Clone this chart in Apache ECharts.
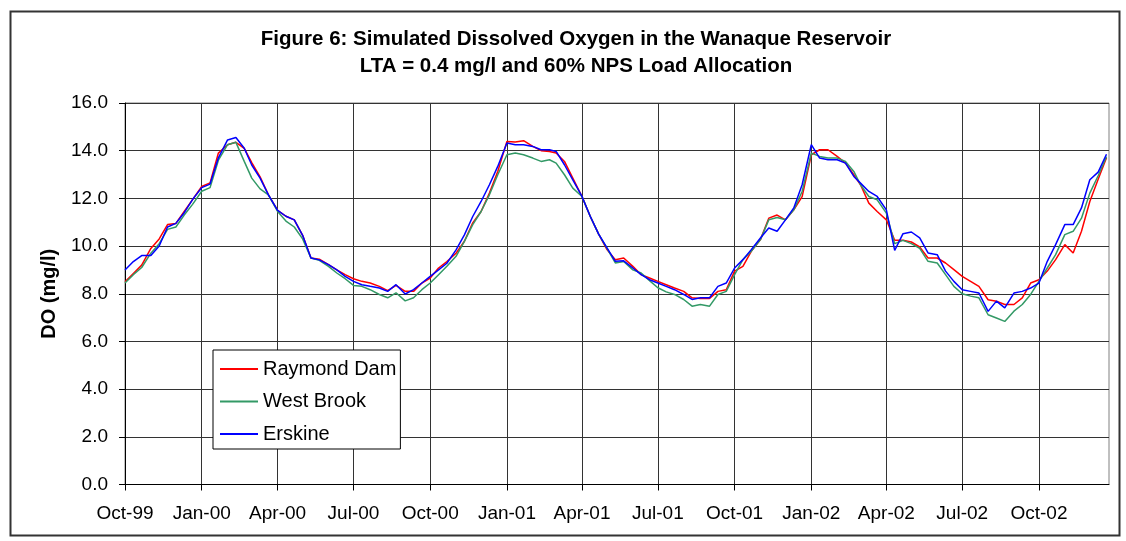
<!DOCTYPE html>
<html>
<head>
<meta charset="utf-8">
<title>Figure 6</title>
<script src="https://cdn.jsdelivr.net/npm/echarts@6/dist/echarts.min.js"></script>
<style>
  html, body { margin: 0; padding: 0; background: #fff; }
  #chart { width: 1126px; height: 541px; }
</style>
</head>
<body>
<div id="chart"></div>
<script>
// sample dates (1st, 11th, 21st of each month)
var dates = [
  '1999-10-01','1999-10-11','1999-10-21','1999-11-01','1999-11-11','1999-11-21','1999-12-01','1999-12-11','1999-12-21',
  '2000-01-01','2000-01-11','2000-01-21','2000-02-01','2000-02-11','2000-02-21','2000-03-01','2000-03-11','2000-03-21',
  '2000-04-01','2000-04-11','2000-04-21','2000-05-01','2000-05-11','2000-05-21','2000-06-01','2000-06-11','2000-06-21',
  '2000-07-01','2000-07-11','2000-07-21','2000-08-01','2000-08-11','2000-08-21','2000-09-01','2000-09-11','2000-09-21',
  '2000-10-01','2000-10-11','2000-10-21','2000-11-01','2000-11-11','2000-11-21','2000-12-01','2000-12-11','2000-12-21',
  '2001-01-01','2001-01-11','2001-01-21','2001-02-01','2001-02-11','2001-02-21','2001-03-01','2001-03-11','2001-03-21',
  '2001-04-01','2001-04-11','2001-04-21','2001-05-01','2001-05-11','2001-05-21','2001-06-01','2001-06-11','2001-06-21',
  '2001-07-01','2001-07-11','2001-07-21','2001-08-01','2001-08-11','2001-08-21','2001-09-01','2001-09-11','2001-09-21',
  '2001-10-01','2001-10-11','2001-10-21','2001-11-01','2001-11-11','2001-11-21','2001-12-01','2001-12-11','2001-12-21',
  '2002-01-01','2002-01-11','2002-01-21','2002-02-01','2002-02-11','2002-02-21','2002-03-01','2002-03-11','2002-03-21',
  '2002-04-01','2002-04-11','2002-04-21','2002-05-01','2002-05-11','2002-05-21','2002-06-01','2002-06-11','2002-06-21',
  '2002-07-01','2002-07-11','2002-07-21','2002-08-01','2002-08-11','2002-08-21','2002-09-01','2002-09-11','2002-09-21',
  '2002-10-01','2002-10-11','2002-10-21','2002-11-01','2002-11-11','2002-11-21','2002-12-01','2002-12-11','2002-12-21'
];

var raymondDam = [
  8.5, 8.85, 9.2, 9.9, 10.3, 10.9, 10.95, 11.45, 11.95,
  12.5, 12.65, 13.9, 14.25, 14.35, 14.1, 13.5, 12.9, 12.15,
  11.5, 11.25, 11.1, 10.45, 9.5, 9.45, 9.22, 9.0, 8.8,
  8.63, 8.52, 8.45, 8.31, 8.13, 8.35, 8.1, 8.1, 8.45,
  8.66, 9.08, 9.35, 9.7, 10.2, 10.97, 11.45, 12.22, 13.13,
  14.39, 14.36, 14.42, 14.18, 14.0, 13.97, 13.9, 13.55, 12.85,
  12.08, 11.24, 10.5, 9.85, 9.43, 9.5, 9.15, 8.8, 8.66,
  8.52, 8.38, 8.24, 8.1, 7.83, 7.8, 7.8, 8.1, 8.17,
  8.95, 9.15, 9.78, 10.27, 11.17, 11.3, 11.1, 11.52, 12.07,
  13.83, 14.04, 14.04, 13.76, 13.48, 12.99, 12.57, 11.8, 11.45,
  11.1, 10.24, 10.24, 10.17, 9.96, 9.5, 9.5, 9.29, 9.01,
  8.73, 8.52, 8.31, 7.75, 7.69, 7.55, 7.55, 7.83, 8.45,
  8.59, 8.95, 9.43, 10.06, 9.71, 10.62, 11.87, 12.8, 13.7
];

var westBrook = [
  8.45, 8.8, 9.1, 9.7, 10.1, 10.7, 10.8, 11.3, 11.75,
  12.3, 12.45, 13.6, 14.25, 14.35, 13.55, 12.85, 12.4, 12.15,
  11.45, 11.05, 10.8, 10.3, 9.5, 9.4, 9.15, 8.87, 8.63,
  8.35, 8.31, 8.17, 7.97, 7.83, 8.04, 7.7, 7.83, 8.17,
  8.45, 8.8, 9.15, 9.57, 10.2, 10.9, 11.45, 12.15, 12.99,
  13.83, 13.9, 13.83, 13.69, 13.55, 13.62, 13.48, 12.99, 12.43,
  12.08, 11.24, 10.5, 9.9, 9.29, 9.35, 9.0, 8.87, 8.55,
  8.25, 8.08, 7.97, 7.76, 7.48, 7.55, 7.48, 7.97, 8.1,
  8.8, 9.43, 9.78, 10.27, 11.1, 11.2, 11.1, 11.52, 12.29,
  13.9, 13.76, 13.69, 13.69, 13.55, 13.13, 12.57, 12.08, 11.94,
  11.38, 10.1, 10.24, 10.1, 9.9, 9.36, 9.29, 8.8, 8.31,
  8.0, 7.9, 7.83, 7.12, 6.98, 6.84, 7.27, 7.55, 7.97,
  8.52, 9.08, 9.64, 10.48, 10.62, 11.17, 12.22, 12.95, 13.75
];

var erskine = [
  9.0, 9.35, 9.6, 9.6, 10.0, 10.8, 10.95, 11.4, 11.95,
  12.45, 12.6, 13.7, 14.45, 14.55, 14.1, 13.4, 12.85, 12.15,
  11.5, 11.25, 11.1, 10.45, 9.5, 9.42, 9.22, 9.0, 8.73,
  8.52, 8.38, 8.31, 8.24, 8.1, 8.38, 7.99, 8.17, 8.45,
  8.73, 9.0, 9.28, 9.84, 10.47, 11.24, 11.87, 12.57, 13.34,
  14.32, 14.25, 14.25, 14.18, 14.04, 14.04, 13.97, 13.41, 12.78,
  12.08, 11.24, 10.5, 9.92, 9.36, 9.38, 9.08, 8.8, 8.59,
  8.45, 8.31, 8.17, 7.97, 7.76, 7.83, 7.83, 8.31, 8.45,
  9.08, 9.43, 9.85, 10.34, 10.76, 10.62, 11.1, 11.6, 12.57,
  14.25, 13.69, 13.62, 13.62, 13.48, 12.92, 12.64, 12.29, 12.08,
  11.52, 9.82, 10.52, 10.59, 10.34, 9.71, 9.64, 8.95, 8.52,
  8.17, 8.1, 8.03, 7.26, 7.69, 7.41, 8.03, 8.1, 8.24,
  8.45, 9.36, 10.06, 10.9, 10.9, 11.6, 12.78, 13.1, 13.85
];

var tickDates = ['1999-10-01','2000-01-01','2000-04-01','2000-07-01','2000-10-01','2001-01-01',
  '2001-04-01','2001-07-01','2001-10-01','2002-01-01','2002-04-01','2002-07-01','2002-10-01'];
var tickLabels = ['Oct-99','Jan-00','Apr-00','Jul-00','Oct-00','Jan-01',
  'Apr-01','Jul-01','Oct-01','Jan-02','Apr-02','Jul-02','Oct-02'];

var seriesNames = ['Raymond Dam', 'West Brook', 'Erskine'];
var seriesColors = ['#ff0000', '#339966', '#0000ff'];

function toTime(s) {
  return echarts.number.parseDate(s).getTime();
}
var tickTimes = tickDates.map(toTime);

var font = 'Liberation Sans, Arial, sans-serif';

var chart = echarts.init(document.getElementById('chart'));

chart.setOption({
  animation: false,
  backgroundColor: '#fff',
  title: [{
    text: 'Figure 6: Simulated Dissolved Oxygen in the Wanaque Reservoir',
    left: 576,
    top: 29,
    textAlign: 'center',
    padding: 0,
    textStyle: { fontFamily: font, fontSize: 20.5, fontWeight: 'bold', color: '#000' }
  }, {
    text: 'LTA = 0.4 mg/l and 60% NPS Load Allocation',
    left: 576,
    top: 55.5,
    textAlign: 'center',
    padding: 0,
    textStyle: { fontFamily: font, fontSize: 20.5, fontWeight: 'bold', color: '#000' }
  }],
  graphic: [{
    type: 'rect',
    left: 8,
    top: 9,
    shape: { width: 1109, height: 524 },
    style: { fill: 'none', stroke: '#333', lineWidth: 2 },
    z: 100
  }],
  legend: {
    orient: 'vertical',
    left: 213,
    top: 350,
    icon: 'rect',
    itemWidth: 38,
    itemHeight: 2,
    itemGap: 12.5,
    padding: [9, 4, 5, 7],
    backgroundColor: '#fff',
    borderColor: '#000',
    borderWidth: 1,
    textStyle: { fontFamily: font, fontSize: 20, color: '#000', lineHeight: 20 },
    data: seriesNames
  },
  grid: {
    left: 125,
    right: 17,
    top: 103,
    bottom: 56.5,
    show: true,
    borderColor: '#808080',
    borderWidth: 1
  },
  xAxis: {
    type: 'value',
    min: toTime('1999-10-01'),
    max: toTime('2002-12-24'),
    axisLine: { lineStyle: { color: '#000', width: 1 } },
    axisTick: { show: true, length: 6, lineStyle: { color: '#000' }, customValues: tickTimes },
    axisLabel: {
      customValues: tickTimes,
      margin: 20,
      fontFamily: font,
      fontSize: 19,
      color: '#000',
      formatter: function (val) {
        var i = tickTimes.indexOf(val);
        return i >= 0 ? tickLabels[i] : '';
      }
    },
    splitLine: { show: true, lineStyle: { color: '#333', width: 1 } }
  },
  yAxis: {
    type: 'value',
    min: 0,
    max: 16,
    interval: 2,
    name: 'DO (mg/l)',
    nameLocation: 'middle',
    nameGap: 66,
    nameTextStyle: { fontFamily: font, fontSize: 20, fontWeight: 'bold', color: '#000' },
    axisLine: { show: true, lineStyle: { color: '#000', width: 1 } },
    axisTick: { show: true, length: 6, lineStyle: { color: '#000' } },
    axisLabel: {
      margin: 17,
      fontFamily: font,
      fontSize: 19,
      color: '#000',
      formatter: function (v) { return v.toFixed(1); }
    },
    splitLine: { show: true, lineStyle: { color: '#333', width: 1 } }
  },
  series: [raymondDam, westBrook, erskine].map(function (vals, k) {
    return {
      name: seriesNames[k],
      type: 'line',
      symbol: 'none',
      color: seriesColors[k],
      lineStyle: { color: seriesColors[k], width: 1.5 },
      data: dates.map(function (d, i) { return [toTime(d), vals[i]]; })
    };
  })
});
</script>
</body>
</html>
